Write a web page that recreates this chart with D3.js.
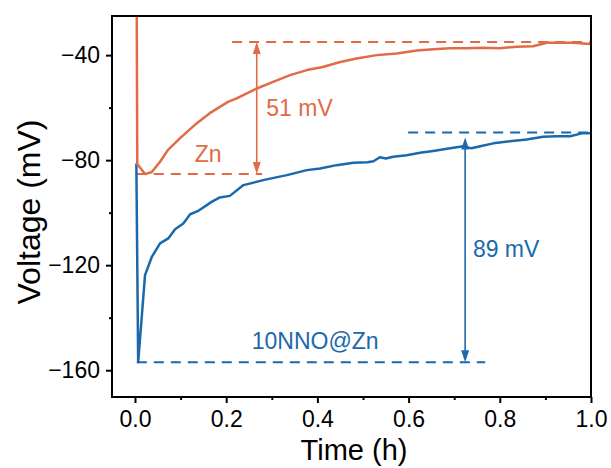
<!DOCTYPE html>
<html>
<head>
<meta charset="utf-8">
<script src="https://cdn.jsdelivr.net/npm/d3@7"></script>
<style>
  body { margin: 0; background: #fff; }
  text { font-family: "Liberation Sans", Arial, sans-serif; }
</style>
</head>
<body>
<script>
// Zn curve, time (h) and voltage (mV)
var znTime = [0.003, 0.005, 0.022, 0.037, 0.055, 0.072, 0.099, 0.135, 0.164, 0.204, 0.223, 0.267, 0.303, 0.340, 0.377, 0.412, 0.450, 0.486, 0.530, 0.574, 0.618, 0.654, 0.691, 0.727, 0.763, 0.800, 0.837, 0.873, 0.903, 0.932, 0.961, 0.998];
var znVolt = [20, -81.5, -85.3, -84.5, -80.6, -76.2, -71.6, -66.0, -62.1, -57.8, -56.5, -52.7, -50.2, -47.6, -45.7, -44.5, -42.6, -41.3, -40.0, -39.4, -38.2, -37.8, -37.4, -37.4, -37.2, -37.4, -36.8, -36.6, -35.3, -35.3, -35.3, -35.8];

// 10NNO@Zn curve
var nnoTime = [0.003, 0.007, 0.022, 0.037, 0.055, 0.073, 0.088, 0.106, 0.121, 0.139, 0.168, 0.186, 0.208, 0.238, 0.281, 0.333, 0.377, 0.406, 0.442, 0.479, 0.510, 0.523, 0.537, 0.550, 0.566, 0.596, 0.625, 0.654, 0.691, 0.720, 0.738, 0.757, 0.786, 0.822, 0.859, 0.895, 0.925, 0.954, 0.980, 0.998];
var nnoVolt = [-81.3, -157, -123.8, -116.8, -111.7, -109.8, -106.3, -104.1, -100.6, -99.3, -95.9, -94.2, -93.6, -89.5, -87.6, -85.7, -83.8, -83.2, -81.9, -81.0, -80.8, -80.4, -78.9, -79.4, -78.7, -78.1, -77.2, -76.5, -75.5, -74.7, -75.5, -74.7, -73.6, -72.8, -72.1, -71.1, -70.9, -70.9, -69.8, -69.8];

// Reference lines: [xStart, xEnd, level]
var znLevels = [[0.004, 0.279, -85.3], [0.213, 1.0, -35.0]];
var nnoLevels = [[0.004, 0.768, -157], [0.599, 1.0, -69.5]];
var znArrow = [0.267, -35.0, -85.3];
var nnoArrow = [0.724, -69.5, -157];

var xTicks = [0, 0.2, 0.4, 0.6, 0.8, 1.0];
var xMinor = [0.1, 0.3, 0.5, 0.7, 0.9];
var yTicks = [-40, -80, -120, -160];
var yMinor = [-60, -100, -140];

var orange = "#E06B46";
var blue = "#1B69AC";

var svgWidth = 611, svgHeight = 468;
var margin = { top: 16, right: 20, bottom: 71, left: 112 };
var width = 591 - margin.left;
var height = 397 - margin.top;

var svg = d3.select("body").append("svg")
  .attr("width", svgWidth)
  .attr("height", svgHeight);

var g = svg.append("g")
  .attr("transform", `translate(${margin.left}, ${margin.top})`);

var x = d3.scaleLinear().domain([-0.0504, 1.0]).range([0, width]);
var y = d3.scaleLinear().domain([-170.2, -25.1]).range([height, 0]);

svg.append("defs").append("clipPath").attr("id", "clip")
  .append("rect").attr("width", width).attr("height", height);

var plot = g.append("g").attr("clip-path", "url(#clip)");

var line = d3.line().x(d => x(d[0])).y(d => y(d[1]));

// dashed reference levels
function levels(arr, color) {
  arr.forEach(function(l) {
    plot.append("line")
      .attr("x1", x(l[0])).attr("x2", x(l[1]))
      .attr("y1", y(l[2])).attr("y2", y(l[2]))
      .attr("stroke", color).attr("stroke-width", 2)
      .attr("stroke-dasharray", "10,7");
  });
}
levels(znLevels, orange);
levels(nnoLevels, blue);

// double arrows
function arrow(a, color, topGap) {
  var ax = x(a[0]), y1 = y(a[1]) + topGap, y2 = y(a[2]);
  plot.append("line")
    .attr("x1", ax).attr("x2", ax).attr("y1", y1 + 8).attr("y2", y2 - 8)
    .attr("stroke", color).attr("stroke-width", 1.6);
  plot.append("path")
    .attr("d", `M${ax},${y1} L${ax - 4},${y1 + 12} L${ax + 4},${y1 + 12} Z`)
    .attr("fill", color);
  plot.append("path")
    .attr("d", `M${ax},${y2} L${ax - 4},${y2 - 12} L${ax + 4},${y2 - 12} Z`)
    .attr("fill", color);
}
arrow(znArrow, orange, 0);
arrow(nnoArrow, blue, 5);

plot.append("path")
  .attr("d", line(d3.zip(nnoTime, nnoVolt)))
  .attr("fill", "none").attr("stroke", blue).attr("stroke-width", 2.5)
  .attr("stroke-linejoin", "round");

plot.append("path")
  .attr("d", line(d3.zip(znTime, znVolt)))
  .attr("fill", "none").attr("stroke", orange).attr("stroke-width", 2.5)
  .attr("stroke-linejoin", "round");

// annotations
function note(txt, tx, tv, color) {
  g.append("text").attr("x", x(tx)).attr("y", y(tv))
    .attr("fill", color).attr("font-size", 23).text(txt);
}
note("51 mV", 0.288, -63.2, orange);
note("Zn", 0.131, -80.8, orange);
note("89 mV", 0.741, -116.8, blue);
note("10NNO@Zn", 0.256, -152.0, blue);

// axes
var bottomAxis = d3.axisBottom(x).tickValues(xTicks).tickFormat(d3.format(".1f"))
  .tickSize(6).tickPadding(8);
var bottomMinor = d3.axisBottom(x).tickValues(xMinor).tickFormat("").tickSize(3);
var leftAxis = d3.axisLeft(y).tickValues(yTicks).tickFormat(d => d3.format("d")(d).replace("-", "\u2212"))
  .tickSize(6).tickPadding(6);
var leftMinor = d3.axisLeft(y).tickValues(yMinor).tickFormat("").tickSize(3);

[[bottomAxis, true], [bottomMinor, true], [leftAxis, false], [leftMinor, false]].forEach(function(a) {
  var ax = g.append("g").call(a[0]);
  if (a[1]) ax.attr("transform", `translate(0, ${height})`);
  ax.select(".domain").remove();
  ax.selectAll("line").attr("stroke", "#000").attr("stroke-width", 2);
  ax.selectAll("text").attr("font-size", 23).attr("fill", "#000")
    .style("font-family", '"Liberation Sans", Arial, sans-serif');
});

// frame
g.append("rect").attr("width", width).attr("height", height)
  .attr("fill", "none").attr("stroke", "#000").attr("stroke-width", 2);

svg.append("text")
  .attr("x", 354).attr("y", 460)
  .attr("text-anchor", "middle").attr("font-size", 29)
  .text("Time (h)");

svg.append("text")
  .attr("transform", "translate(40, 212) rotate(-90)")
  .attr("text-anchor", "middle").attr("font-size", 32)
  .text("Voltage (mV)");
</script>
</body>
</html>
